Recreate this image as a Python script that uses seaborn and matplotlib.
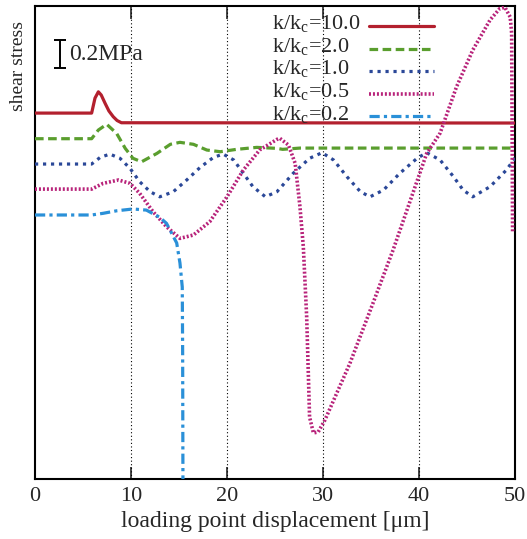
import numpy as np
import pandas as pd
import seaborn as sns
import matplotlib
matplotlib.use("Agg")
import matplotlib.pyplot as plt

# values (x in um, shear stress in MPa, arbitrary offset)
x_k10 = [0, 5.9, 6.25, 6.6, 6.9, 7.3, 7.7, 8.15, 8.55, 9.0, 50]
y_k10 = [2.614, 2.614, 2.721, 2.766, 2.743, 2.684, 2.629, 2.588, 2.561, 2.545, 2.543]

x_k2 = [0, 5.9, 6.6, 7.47, 8.5, 9.4, 10.2, 11.1, 12.7, 14.1, 15.1, 16.5, 17.9,
        19.3, 21.0, 23.1, 25.2, 25.8, 27.6, 50]
y_k2 = [2.431, 2.431, 2.493, 2.534, 2.469, 2.362, 2.291, 2.266, 2.326, 2.391, 2.405,
        2.391, 2.350, 2.338, 2.355, 2.369, 2.362, 2.355, 2.364, 2.364]

x_k1 = [0, 5.9, 6.8, 7.8, 8.85, 9.9, 10.9, 12.0, 13.0, 14.4, 15.8, 17.2, 18.6, 19.6,
        20.7, 21.7, 22.7, 24.0, 25.2, 26.9, 28.6, 29.9, 31.1, 32.5, 33.9, 34.9,
        36.3, 38.0, 39.8, 40.8, 42.2, 43.6, 44.6, 45.6, 47.4, 49.1, 50]
y_k1 = [2.250, 2.250, 2.298, 2.321, 2.291, 2.219, 2.124, 2.052, 2.016, 2.052, 2.136,
        2.226, 2.298, 2.321, 2.279, 2.184, 2.088, 2.016, 2.052, 2.184, 2.291, 2.331,
        2.279, 2.159, 2.052, 2.016, 2.064, 2.184, 2.291, 2.331, 2.279, 2.159, 2.064,
        2.016, 2.088, 2.207, 2.293]

x_k05 = [0, 5.9, 7.1, 8.7, 9.9, 10.9, 12.3, 13.7, 15.1, 16.5, 18.2, 20.0, 21.7, 23.4,
         25.2, 25.5, 26.4, 27.1, 27.6, 27.95, 28.3, 28.5, 28.6, 29.0, 29.5, 30.2,
         32.8, 35.2, 37.3, 40.8, 42.2, 43.9, 45.6, 47.4, 48.4, 48.95, 49.5, 49.65, 49.75]
y_k05 = [2.071, 2.071, 2.112, 2.136, 2.112, 2.041, 1.909, 1.802, 1.719, 1.743, 1.838,
         2.016, 2.207, 2.350, 2.426, 2.434, 2.386, 2.255, 1.945, 1.659, 1.157, 0.686,
         0.443, 0.329, 0.336, 0.421, 0.826, 1.255, 1.636, 2.326, 2.471, 2.800, 3.064,
         3.279, 3.360, 3.370, 3.300, 3.186, 1.757]

x_k02 = [0, 5.9, 7.1, 8.5, 10.2, 11.6, 13.0, 13.7, 14.06, 14.76, 15.1, 15.34, 15.38, 15.42]
y_k02 = [1.886, 1.886, 1.898, 1.916, 1.929, 1.921, 1.869, 1.826, 1.779, 1.686, 1.543,
         1.371, 0.9, -0.3]

labels = ["k/k$_\\mathrm{c}$=10.0", "k/k$_\\mathrm{c}$=2.0", "k/k$_\\mathrm{c}$=1.0",
          "k/k$_\\mathrm{c}$=0.5", "k/k$_\\mathrm{c}$=0.2"]
xs = [x_k10, x_k2, x_k1, x_k05, x_k02]
ys = [y_k10, y_k2, y_k1, y_k05, y_k02]
colors = ["#b3202e", "#5a9e2e", "#2b4898", "#b8237a", "#2a90d8"]
dashes = [None, (2.7, 1.4), (1.0, 1.5), (0.55, 0.55), (3.2, 1.3, 1.0, 1.3)]
widths = [2.3, 2.3, 2.3, 2.6, 2.3]

sns.set_style("ticks")
plt.rcParams["font.family"] = ["Liberation Serif", "DejaVu Serif"]
plt.rcParams["mathtext.fontset"] = "custom"
plt.rcParams["mathtext.rm"] = "Liberation Serif"
plt.rcParams["mathtext.it"] = "Liberation Serif"
plt.rcParams["xtick.direction"] = "in"
plt.rcParams["ytick.direction"] = "in"

fig = plt.figure(figsize=(5.27, 5.39), dpi=100)
ax = fig.add_axes([35 / 527, 60 / 539, 480 / 527, 473 / 539])

for xv in [10, 20, 30, 40]:
    ax.axvline(xv, color="black", lw=0.8, ls=(0, (1, 2.2)), zorder=1)

for x, y, c, d, w in zip(xs, ys, colors, dashes, widths):
    df = pd.DataFrame({"x": x, "y": y})
    sns.lineplot(data=df, x="x", y="y", ax=ax, color=c, lw=w, sort=False,
                 estimator=None, zorder=3)
    if d is not None:
        ax.lines[-1].set_dashes(d)

# legend: left-aligned labels, handles to the right
for i, (lab, c, d, w) in enumerate(zip(labels, colors, dashes, widths)):
    yh = 0.9577 - i * 0.0477
    ax.text(0.494, yh - 0.007, lab, transform=ax.transAxes, fontsize=16,
            ha="left", va="baseline")
    ln, = ax.plot([0.696, 0.831], [yh, yh], transform=ax.transAxes, color=c, lw=w,
                  clip_on=False, zorder=4)
    if d is not None:
        ln.set_dashes(d)

# 0.2 MPa scale bar
ax.errorbar([2.6], [3.036], yerr=[0.1], color="black", lw=1.4, capsize=4, capthick=1.4)
ax.text(3.6, 3.036, "0.2MPa", fontsize=17, va="center", ha="left")

ax.set_xlim(0, 50)
ax.set_ylim(0, 3.379)
ax.set_xticks([0, 10, 20, 30, 40, 50])
ax.set_yticks([])
ax.tick_params(axis="x", top=True, length=9, width=1.2, labelsize=16, pad=6)
ax.set_xlabel("loading point displacement [μm]", fontsize=17, labelpad=3)
ax.set_ylabel("shear stress", fontsize=14)
ax.yaxis.set_label_coords(-0.017, 0.873)
for s in ax.spines.values():
    s.set_linewidth(1.5)
    s.set_color("black")

fig.savefig("out.png", dpi=100)
